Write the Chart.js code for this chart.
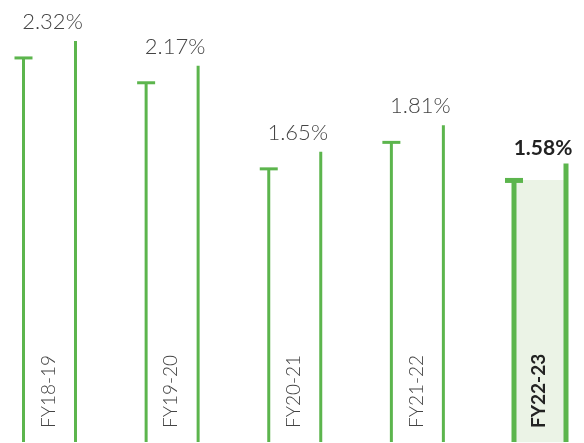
<!DOCTYPE html>
<html>
<head>
<meta charset="utf-8">
<script src="https://cdn.jsdelivr.net/npm/chart.js@4"></script>
<style>
	html, body { margin: 0; padding: 0; background: #fff; }
	#graphique { display: block; }
</style>
</head>
<body>
<div style="width:584px;height:443px;">
	<canvas id="graphique"></canvas>
</div>
<script>
// Données du graphique
const categories = ['FY18-19', 'FY19-20', 'FY20-21', 'FY21-22', 'FY22-23'];
const valeurs = [2.32, 2.17, 1.65, 1.81, 1.58];
const etiquettes = ['2.32%', '2.17%', '1.65%', '1.81%', '1.58%'];
const dernier = categories.length - 1; // barre mise en avant

const vert = '#5cb54d';

// Plugin qui dessine les traits verticaux, le "T" et les textes
const traitsPlugin = {
	id: 'traits',
	afterDatasetsDraw(chart) {
		const ctx = chart.ctx;
		const meta = chart.getDatasetMeta(0);
		meta.data.forEach((bar, i) => {
			const { x, y, base, width } = bar.getProps(['x', 'y', 'base', 'width'], true);
			const gauche = x - width / 2;
			const droite = x + width / 2;
			const epais = i === dernier ? 5 : 3;
			const hautDroit = y - 17;

			ctx.save();
			ctx.strokeStyle = vert;
			ctx.lineWidth = epais;
			ctx.lineCap = 'butt';
			// trait gauche
			ctx.beginPath();
			ctx.moveTo(gauche, base);
			ctx.lineTo(gauche, y);
			ctx.stroke();
			// barre du T
			ctx.beginPath();
			ctx.moveTo(gauche - 9, y);
			ctx.lineTo(gauche + 9, y);
			ctx.stroke();
			// trait droit plus haut
			ctx.beginPath();
			ctx.moveTo(droite, base);
			ctx.lineTo(droite, hautDroit);
			ctx.stroke();

			// valeur au-dessus
			ctx.textAlign = 'center';
			ctx.textBaseline = 'alphabetic';
			if (i === dernier) {
				ctx.font = 'bold 21px Lato';
				ctx.fillStyle = '#222';
			} else {
				ctx.font = '300 22px Lato';
				ctx.fillStyle = '#444';
			}
			ctx.fillText(etiquettes[i], x + 3, hautDroit - (i === dernier ? 8 : 12));

			// catégorie à la verticale
			ctx.translate(x - 1, 428);
			ctx.rotate(-Math.PI / 2);
			ctx.textAlign = 'left';
			ctx.textBaseline = 'middle';
			if (i === dernier) {
				ctx.font = 'bold 19px Lato';
				ctx.fillStyle = '#222';
			} else {
				ctx.font = '300 19px Lato';
				ctx.fillStyle = '#444';
			}
			ctx.fillText(categories[i], 0, 0);
			ctx.restore();
		});
	}
};

const couleursFond = valeurs.map((v, i) => (i === dernier ? '#ebf3e6' : 'rgba(0,0,0,0)'));

const config = {
	type: 'bar',
	data: {
		labels: categories,
		datasets: [
			{
				data: valeurs,
				backgroundColor: couleursFond,
				borderWidth: 0,
				barThickness: 52,
				clip: false,
			},
		],
	},
	options: {
		responsive: true,
		maintainAspectRatio: false,
		animation: false,
		layout: { padding: { left: 49.5, right: 44, top: 0, bottom: 1 } },
		plugins: {
			legend: { display: false },
			tooltip: { enabled: false },
		},
		scales: {
			x: { display: false, offset: false },
			y: { display: false, min: 0, max: 2.67 },
		},
	},
	plugins: [traitsPlugin],
};

new Chart(document.querySelector('#graphique'), config);
</script>
</body>
</html>
